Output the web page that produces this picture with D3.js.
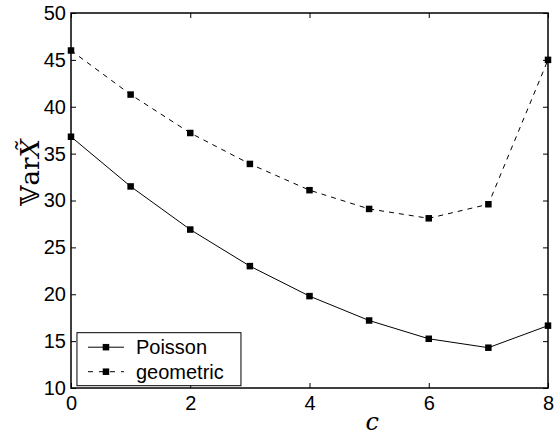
<!DOCTYPE html>
<html>
<head>
<meta charset="utf-8">
<script src="https://cdn.jsdelivr.net/npm/d3@7"></script>
<style>
  body { margin: 0; background: #fff; }
  svg text { font-family: "Liberation Sans", Arial, sans-serif; }
</style>
</head>
<body>
<div id="chart"></div>
<script>
const cValues = [0, 1, 2, 3, 4, 5, 6, 7, 8];
const poisson = [36.8, 31.5, 26.9, 23.0, 19.8, 17.2, 15.25, 14.3, 16.65];
const geometric = [46.0, 41.3, 37.2, 33.9, 31.1, 29.1, 28.1, 29.6, 45.0];
const xTicks = [0, 2, 4, 6, 8];
const yTicks = [10, 15, 20, 25, 30, 35, 40, 45, 50];

const margin = { top: 13, right: 7, bottom: 51, left: 71 };
const width = 555 - margin.left - margin.right;
const height = 439 - margin.top - margin.bottom;

const svg = d3.select("#chart")
    .append("svg")
    .attr("width", 555)
    .attr("height", 439)
    .append("g")
    .attr("transform", `translate(${margin.left},${margin.top})`);

const x = d3.scaleLinear().domain([0, 8]).range([0, width]);
const y = d3.scaleLinear().domain([10, 50]).range([height, 0]);

const series = [
    { name: "Poisson", values: poisson, dash: null },
    { name: "geometric", values: geometric, dash: "5,5" }
];

const line = d3.line()
    .x((d, i) => x(cValues[i]))
    .y(d => y(d));

const ms = 6.5;

series.forEach(s => {
    svg.append("path")
        .datum(s.values)
        .attr("fill", "none")
        .attr("stroke", "#000")
        .attr("stroke-width", 1)
        .attr("stroke-dasharray", s.dash)
        .attr("d", line);

    svg.selectAll(null)
        .data(s.values)
        .enter()
        .append("rect")
        .attr("x", (d, i) => x(cValues[i]) - ms / 2)
        .attr("y", d => y(d) - ms / 2)
        .attr("width", ms)
        .attr("height", ms)
        .attr("fill", "#000");
});

// axes: inward ticks on all four sides
const tickLen = 5;
svg.append("g")
    .attr("transform", `translate(0,${height})`)
    .call(d3.axisBottom(x).tickValues(xTicks).tickSizeInner(-tickLen).tickSizeOuter(0).tickPadding(8))
    .call(g => g.select(".domain").remove());
svg.append("g")
    .call(d3.axisTop(x).tickValues(xTicks).tickSizeInner(-tickLen).tickSizeOuter(0).tickFormat(""))
    .call(g => g.select(".domain").remove());
svg.append("g")
    .call(d3.axisLeft(y).tickValues(yTicks).tickSizeInner(-tickLen).tickSizeOuter(0).tickPadding(5))
    .call(g => g.select(".domain").remove());
svg.append("g")
    .attr("transform", `translate(${width},0)`)
    .call(d3.axisRight(y).tickValues(yTicks).tickSizeInner(-tickLen).tickSizeOuter(0).tickFormat(""))
    .call(g => g.select(".domain").remove());

svg.selectAll(".tick line").attr("stroke", "#000").attr("stroke-width", 1);
svg.selectAll(".tick text")
    .attr("fill", "#000")
    .attr("font-size", 20)
    .attr("font-family", "'Liberation Sans', Arial, sans-serif");

svg.append("rect")
    .attr("x", 0).attr("y", 0)
    .attr("width", width).attr("height", height)
    .attr("fill", "none")
    .attr("stroke", "#000")
    .attr("stroke-width", 1.5);

// axis labels
svg.append("text")
    .attr("x", x(5.05))
    .attr("y", height + 42)
    .attr("text-anchor", "middle")
    .style("font-family", "'DejaVu Serif', 'Liberation Serif', serif")
    .style("font-style", "italic")
    .style("font-size", "24px")
    .text("c");

const yl = svg.append("text")
    .attr("transform", `translate(${-32},${y(33)}) rotate(-90)`)
    .attr("text-anchor", "middle")
    .style("font-family", "'DejaVu Serif', 'Liberation Serif', serif")
    .style("font-size", "26px");
yl.append("tspan").text("\u{1D54D}ar");
yl.append("tspan").style("font-style", "italic").text("X\u0303");

// legend
const legend = svg.append("g")
    .attr("transform", `translate(${x(0.1)},${y(15.9)})`);
legend.append("rect")
    .attr("width", 164)
    .attr("height", 53)
    .attr("fill", "#fff")
    .attr("stroke", "#000")
    .attr("stroke-width", 1);

series.forEach((s, i) => {
    const ly = 14.5 + i * 24.5;
    legend.append("line")
        .attr("x1", 11).attr("x2", 47)
        .attr("y1", ly).attr("y2", ly)
        .attr("stroke", "#000")
        .attr("stroke-width", 1)
        .attr("stroke-dasharray", s.dash ? "5,6" : null);
    legend.append("rect")
        .attr("x", 29 - ms / 2).attr("y", ly - ms / 2)
        .attr("width", ms).attr("height", ms)
        .attr("fill", "#000");
    legend.append("text")
        .attr("x", 59)
        .attr("y", ly + 7)
        .style("font-size", "20px")
        .text(s.name);
});
</script>
</body>
</html>
